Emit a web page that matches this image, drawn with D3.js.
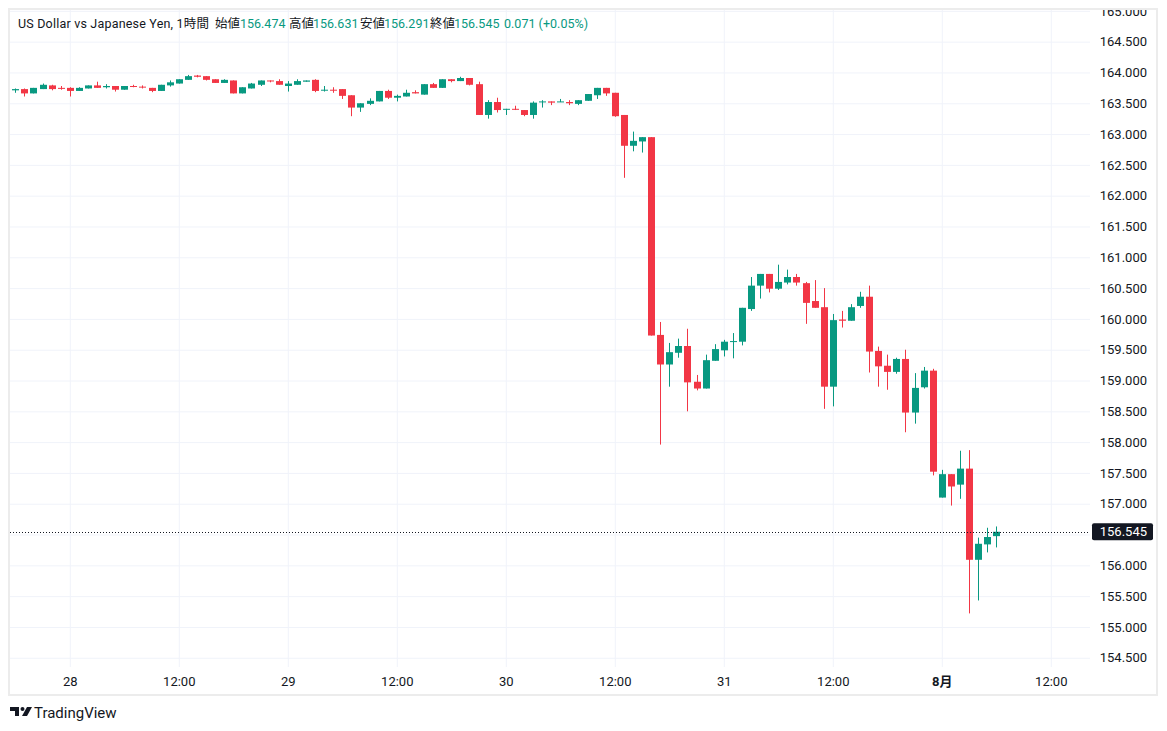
<!DOCTYPE html>
<html>
<head>
<meta charset="utf-8">
<script src="https://cdn.jsdelivr.net/npm/d3@7"></script>
<style>
  body { margin: 0; background: #fff; }
  svg { display: block; font-family: Roboto, "Noto Sans CJK JP", sans-serif; }
</style>
</head>
<body>
<div id="viz"></div>
<script>
// hourly USD/JPY candles, 27th 18:00 -> 1st 06:00
var opens = [163.71,163.73,163.66,163.73,163.79,163.75,163.75,163.70,163.74,163.79,163.76,163.78,163.72,163.78,163.77,163.75,163.70,163.79,163.82,163.88,
  163.95,163.94,163.89,163.83,163.87,163.66,163.74,163.80,163.87,163.86,163.78,163.80,163.85,163.88,163.71,163.72,163.73,163.63,163.43,163.49,
  163.53,163.70,163.59,163.61,163.68,163.64,163.81,163.75,163.89,163.86,163.91,163.81,163.31,163.52,163.40,163.41,163.39,163.31,163.52,163.53,
  163.52,163.52,163.49,163.54,163.63,163.75,163.67,163.31,162.81,162.88,162.95,159.74,159.26,159.45,159.56,158.98,158.87,159.32,159.49,159.63,
  159.63,160.16,160.54,160.73,160.49,160.59,160.68,160.58,160.29,160.19,158.90,159.99,159.97,160.21,160.36,159.48,159.24,159.14,159.35,158.48,
  158.89,159.16,157.10,157.48,157.31,157.57,156.09,156.34,156.474]
var highs = [163.74,163.74,163.75,163.82,163.80,163.78,163.76,163.76,163.79,163.85,163.81,163.78,163.78,163.80,163.79,163.75,163.80,163.87,163.89,163.96,
  163.96,163.94,163.89,163.89,163.87,163.76,163.83,163.87,163.87,163.89,163.86,163.89,163.87,163.89,163.78,163.76,163.73,163.63,163.50,163.58,
  163.70,163.72,163.64,163.72,163.71,163.81,163.83,163.89,163.89,163.93,163.91,163.85,163.55,163.59,163.41,163.46,163.39,163.53,163.55,163.53,
  163.57,163.55,163.55,163.65,163.75,163.75,163.67,163.31,163.04,162.95,162.95,159.95,159.61,159.68,159.84,159.09,159.42,159.59,159.66,159.77,
  160.18,160.68,160.73,160.73,160.88,160.80,160.73,160.60,160.63,160.50,160.08,160.13,160.24,160.44,160.54,159.55,159.42,159.37,159.50,159.12,
  159.22,159.19,157.55,157.48,157.86,157.87,156.45,156.61,156.631]
var lows = [163.67,163.61,163.66,163.73,163.71,163.72,163.61,163.70,163.74,163.75,163.74,163.69,163.72,163.76,163.74,163.68,163.70,163.77,163.82,163.88,
  163.92,163.87,163.83,163.83,163.66,163.66,163.74,163.78,163.84,163.80,163.69,163.80,163.85,163.68,163.69,163.67,163.57,163.29,163.36,163.47,
  163.53,163.57,163.53,163.61,163.66,163.64,163.75,163.75,163.84,163.86,163.79,163.31,163.25,163.35,163.31,163.39,163.29,163.25,163.43,163.47,
  163.52,163.47,163.47,163.54,163.57,163.62,163.28,162.29,162.72,162.70,159.73,157.96,158.90,159.37,158.50,158.84,158.87,159.32,159.39,159.36,
  159.57,160.13,160.33,160.43,160.47,160.56,160.54,159.92,160.18,158.54,158.58,159.86,159.97,160.18,159.13,158.90,158.85,159.11,158.16,158.30,
  158.87,157.46,157.10,156.97,157.08,155.22,155.43,156.21,156.291]
var closes = [163.73,163.66,163.75,163.80,163.73,163.74,163.70,163.75,163.79,163.75,163.78,163.72,163.78,163.77,163.76,163.70,163.80,163.84,163.89,163.94,
  163.93,163.88,163.83,163.88,163.66,163.76,163.82,163.87,163.86,163.80,163.82,163.86,163.87,163.70,163.72,163.71,163.62,163.43,163.50,163.54,
  163.70,163.59,163.62,163.67,163.66,163.81,163.75,163.89,163.86,163.91,163.80,163.31,163.52,163.39,163.41,163.40,163.31,163.51,163.53,163.51,
  163.53,163.50,163.55,163.65,163.75,163.66,163.29,162.81,162.89,162.95,159.73,159.26,159.46,159.56,158.97,158.87,159.33,159.51,159.63,159.64,
  160.18,160.54,160.73,160.49,160.60,160.68,160.59,160.26,160.18,158.90,159.98,159.97,160.19,160.36,159.47,159.23,159.14,159.35,158.48,158.88,
  159.16,157.52,157.48,157.28,157.57,156.09,156.35,156.46,156.545]

var xTickIdx = [6, 18, 30, 42, 54, 66, 78, 90, 102, 114]
var xTickLabels = ["28", "12:00", "29", "12:00", "30", "12:00", "31", "12:00", "8月", "12:00"]
var yTicks = [154.5, 155, 155.5, 156, 156.5, 157, 157.5, 158, 158.5, 159, 159.5, 160, 160.5, 161, 161.5, 162, 162.5, 163, 163.5, 164, 164.5, 165]

var lastPrice = 156.545
var header = [
  { t: "US Dollar vs Japanese Yen, 1時間", x: 18, c: "#131722", len: 191 },
  { t: "始値", x: 215, c: "#131722" }, { t: "156.474", x: 240, c: "#089981" },
  { t: "高値", x: 289, c: "#131722" }, { t: "156.631", x: 313, c: "#089981" },
  { t: "安値", x: 360, c: "#131722" }, { t: "156.291", x: 384, c: "#089981" },
  { t: "終値", x: 430, c: "#131722" }, { t: "156.545", x: 454, c: "#089981" },
  { t: "0.071 (+0.05%)", x: 504, c: "#089981", len: 84 }
]

var w = 1167
var h = 731
var up = "#089981"
var down = "#F23645"
var plotL = 10, plotR = 1090, plotT = 10, plotB = 667

var candles = opens.map((o, i) => ({ i: i, o: o, h: highs[i], l: lows[i], c: closes[i] }))

var x = d3.scaleLinear().domain([0, 108]).range([15.3, 996.3])
var y = d3.scaleLinear().domain([154.35, 165.03]).range([667, 9])

var svg = d3.select("#viz").append("svg")
  .attr("width", w)
  .attr("height", h)

svg.append("defs").append("clipPath").attr("id", "clip")
  .append("rect").attr("x", 10).attr("y", 10).attr("width", 1146).attr("height", 684)

// gridlines
var grid = svg.append("g")
grid.append("g")
  .attr("transform", `translate(${plotL},0)`)
  .call(d3.axisRight(y).tickValues(yTicks).tickSize(plotR - plotL).tickFormat(""))
  .call(g => g.select(".domain").remove())
  .call(g => g.selectAll("line").attr("stroke", "#f0f3fa"))
grid.append("g")
  .attr("transform", `translate(0,${plotB})`)
  .call(d3.axisTop(x).tickValues(xTickIdx).tickSize(plotB - plotT).tickFormat(""))
  .call(g => g.select(".domain").remove())
  .call(g => g.selectAll("line").attr("stroke", "#f0f3fa"))

// candles
var cg = svg.append("g")
cg.selectAll(".wick").data(candles).enter()
  .append("line")
  .attr("class", "wick")
  .attr("x1", d => Math.round(x(d.i)) + 0.5)
  .attr("x2", d => Math.round(x(d.i)) + 0.5)
  .attr("y1", d => y(d.h))
  .attr("y2", d => y(d.l))
  .attr("stroke", d => d.c >= d.o ? up : down)
  .attr("stroke-width", 1)
cg.selectAll(".body").data(candles).enter()
  .append("rect")
  .attr("class", "body")
  .attr("x", d => Math.round(x(d.i)) - 3)
  .attr("width", 7)
  .attr("y", d => y(Math.max(d.o, d.c)))
  .attr("height", d => Math.max(1, y(Math.min(d.o, d.c)) - y(Math.max(d.o, d.c))))
  .attr("fill", d => d.c >= d.o ? up : down)

// last price line
svg.append("line")
  .attr("x1", plotL).attr("x2", plotR)
  .attr("y1", Math.round(y(lastPrice)) + 0.5).attr("y2", Math.round(y(lastPrice)) + 0.5)
  .attr("stroke", "#131722")
  .attr("stroke-dasharray", "1,2")

// price axis (clipped by the frame at the top)
var ya = svg.append("g")
  .attr("clip-path", "url(#clip)")
  .append("g")
  .attr("transform", "translate(1147,0)")
  .call(d3.axisRight(y).tickValues(yTicks).tickSize(0).tickFormat(d3.format(".3f")))
ya.select(".domain").remove()
ya.selectAll("text")
  .attr("x", 0)
  .attr("text-anchor", "end")
  .attr("fill", "#131722")
  .style("font-size", "13px")
  .style("font-family", "Roboto, sans-serif")
  .style("display", d => Math.abs(d - lastPrice) < 0.2 ? "none" : null)

svg.append("rect")
  .attr("x", 1092).attr("y", y(lastPrice) - 8.5)
  .attr("width", 61).attr("height", 17)
  .attr("rx", 2)
  .attr("fill", "#131722")
svg.append("text")
  .attr("x", 1147).attr("y", y(lastPrice))
  .attr("dy", "0.35em")
  .attr("text-anchor", "end")
  .attr("fill", "#fff")
  .style("font-size", "13px")
  .text(d3.format(".3f")(lastPrice))

// time axis
var xa = svg.append("g")
  .attr("transform", `translate(0,${plotB + 7})`)
  .call(d3.axisBottom(x).tickValues(xTickIdx).tickSize(0).tickFormat((d, i) => xTickLabels[i]))
xa.select(".domain").remove()
xa.selectAll("text")
  .attr("fill", "#131722")
  .style("font-size", "13px")
  .style("font-family", "Roboto, 'Noto Sans CJK JP', sans-serif")
  .style("font-weight", (d, i) => xTickLabels[i] === "8月" ? "bold" : "normal")

// header legend
svg.append("text")
  .attr("y", 28)
  .style("font-size", "12.5px")
  .selectAll("tspan").data(header).enter()
  .append("tspan")
  .attr("x", d => d.x)
  .attr("fill", d => d.c)
  .attr("textLength", d => d.len || null)
  .text(d => d.t)

// frame
svg.append("rect")
  .attr("x", 9).attr("y", 9).attr("width", 1148).attr("height", 686)
  .attr("fill", "none")
  .attr("stroke", "#ececec")
  .attr("stroke-width", 2)

// TradingView mark
var logo = svg.append("g").attr("fill", "#131722")
logo.append("path").attr("d", "M10,707 h9 v9 h-4 v-5 h-5 z")
logo.append("circle").attr("cx", 22.5).attr("cy", 709).attr("r", 2)
logo.append("path").attr("d", "M27,707 h5 l-5,9 h-5 z")
svg.append("text")
  .attr("x", 34).attr("y", 718)
  .attr("fill", "#131722")
  .style("font-size", "15px")
  .text("TradingView")
</script>
</body>
</html>
